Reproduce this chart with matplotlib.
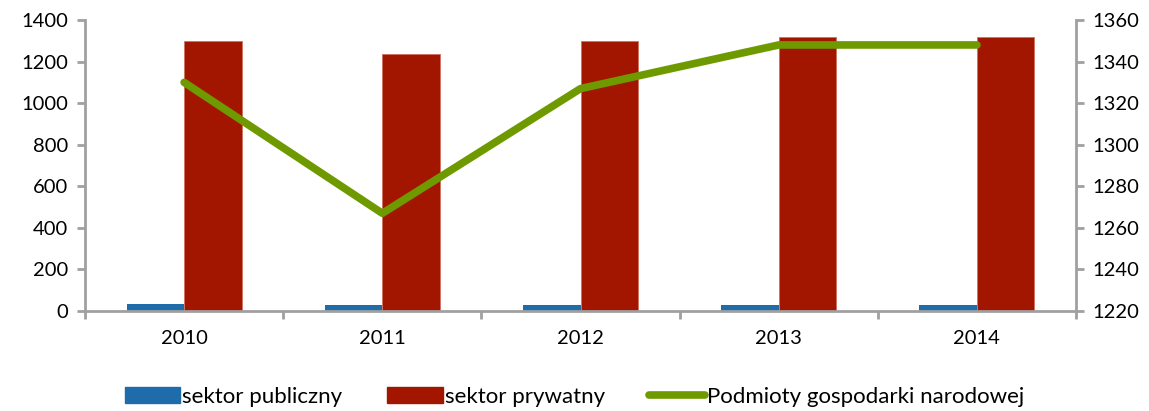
import matplotlib
matplotlib.use("Agg")
import matplotlib.pyplot as plt
import numpy as np
from matplotlib.patches import Patch
from matplotlib.lines import Line2D

years = ["2010", "2011", "2012", "2013", "2014"]
sektor_publiczny = [34, 29, 28, 28, 28]
sektor_prywatny = [1298, 1238, 1298, 1318, 1318]
podmioty = [1330, 1267, 1327, 1348, 1348]

plt.rcParams['font.family'] = ['Lato', 'DejaVu Sans']
fs = 14.5
lfs = 16
blue = '#1F6CAB'
red = '#A21600'
green = '#6E9A00'
axc = '#A0A0A0'

fig = plt.figure(figsize=(11.49, 4.11), dpi=100)
ax = fig.add_axes([0.074, 0.2433, 0.8625, 0.708])
x = np.arange(len(years))
w = 0.29
ax.bar(x - w/2, sektor_publiczny, w, color=blue, zorder=2)
ax.bar(x + w/2, sektor_prywatny, w, color=red, edgecolor='#D07060', linewidth=0.6, zorder=2)
ax.set_xlim(-0.5, len(years) - 0.5)
ax.set_ylim(0, 1400)
ax.set_yticks(range(0, 1401, 200))
ax.set_xticks(x)
ax.set_xticklabels(years, fontsize=fs)
ax.set_xticks(np.arange(-0.5, len(years)), minor=True)
ax.tick_params(axis='x', which='major', length=0, pad=14)
ax.tick_params(axis='x', which='minor', length=6, width=2, color=axc, direction='out')
ax.tick_params(axis='y', length=6, width=2, color=axc, labelsize=fs, pad=6)
for s in ['top', 'right']:
    ax.spines[s].set_visible(False)
for s in ['left', 'bottom']:
    ax.spines[s].set_color(axc)
    ax.spines[s].set_linewidth(2)

ax2 = ax.twinx()
ax2.plot(x, podmioty, color=green, lw=5.5, solid_capstyle='round', zorder=3)
ax2.set_ylim(1220, 1360)
ax2.set_yticks(range(1220, 1361, 20))
ax2.tick_params(axis='y', length=6, width=2, color=axc, labelsize=fs, pad=6)
for s in ['top', 'left', 'bottom']:
    ax2.spines[s].set_visible(False)
ax2.spines['right'].set_color(axc)
ax2.spines['right'].set_linewidth(2)

handles = [Patch(color=blue), Patch(color=red),
           Line2D([0], [0], color=green, lw=5.5, solid_capstyle='round')]
labels = ["sektor publiczny", "sektor prywatny", "Podmioty gospodarki narodowej"]
fig.legend(handles, labels, loc='center', bbox_to_anchor=(0.5, 0.035), ncol=3,
           frameon=False, fontsize=lfs, handlelength=2.5, handleheight=0.7,
           handletextpad=0.1, columnspacing=2.0)

fig.savefig("out.png", dpi=100)
